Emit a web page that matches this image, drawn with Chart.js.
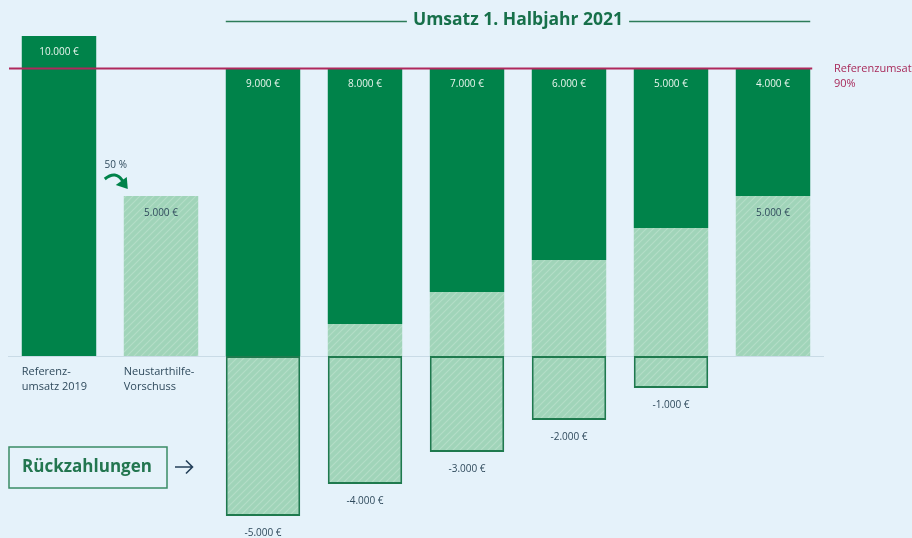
<!DOCTYPE html>
<html>
<head>
<meta charset="utf-8">
<script src="https://cdn.jsdelivr.net/npm/chart.js@4"></script>
<style>
  html, body { margin: 0; padding: 0; background: #e5f2fa; }
  #wrap { width: 912px; height: 538px; position: relative; }
</style>
</head>
<body>
<div id="wrap"><canvas id="chart" width="912" height="538"></canvas></div>
<script>
const CATEGORIES = [["Referenz-", "umsatz 2019"], ["Neustarthilfe-", "Vorschuss"], "", "", "", "", "", ""];
// Neustarthilfe, die behalten wird (hell, schraffiert)
const KEPT = [null, 5000, 0, 1000, 2000, 3000, 4000, 5000];
// Umsatz (dunkelgrün)
const REVENUE = [10000, null, 9000, 8000, 7000, 6000, 5000, 4000];
// Rückzahlung (negativ)
const REPAY = [null, null, -5000, -4000, -3000, -2000, -1000, null];
const KEPT_LABEL_SHOWN = [false, true, false, false, false, false, false, true];
const REFERENCE = 9000;
const TITLE = "Umsatz 1. Halbjahr 2021";

const DARK = "#00834a";
const LIGHT = "#a0d4b9";
const TEXT = "#2f4a5c";

function euro(v) {
  const s = Math.abs(v).toString().replace(/\B(?=(\d{3})+(?!\d))/g, ".");
  return (v < 0 ? "-" : "") + s + " €";
}

function hatch() {
  const c = document.createElement("canvas");
  c.width = 7; c.height = 7;
  const g = c.getContext("2d");
  g.fillStyle = LIGHT;
  g.fillRect(0, 0, 7, 7);
  g.strokeStyle = "#b3ddc7";
  g.lineWidth = 1.2;
  g.beginPath();
  g.moveTo(-1, 8); g.lineTo(8, -1);
  g.moveTo(-1, 1); g.lineTo(1, -1);
  g.moveTo(6, 8); g.lineTo(8, 6);
  g.stroke();
  return g.createPattern(c, "repeat");
}
const pattern = hatch();

const decor = {
  id: "decor",
  beforeDatasetsDraw(chart) {
    const { ctx, chartArea } = chart;
    const y0 = chart.scales.y.getPixelForValue(0);
    ctx.save();
    ctx.strokeStyle = "rgba(120,150,170,0.25)";
    ctx.lineWidth = 1;
    ctx.beginPath();
    ctx.moveTo(chartArea.left, y0 + 0.5);
    ctx.lineTo(chartArea.right, y0 + 0.5);
    ctx.stroke();
    ctx.restore();
  },
  afterDatasetsDraw(chart) {
    const { ctx } = chart;
    const y = chart.scales.y;
    const keptMeta = chart.getDatasetMeta(0).data;
    const revMeta = chart.getDatasetMeta(1).data;
    const repMeta = chart.getDatasetMeta(2).data;
    ctx.save();
    ctx.textAlign = "center";
    ctx.textBaseline = "middle";
    ctx.font = "10px 'Open Sans', sans-serif";

    // value labels
    REVENUE.forEach((v, i) => {
      if (v == null) return;
      ctx.fillStyle = "#eaf6ef";
      ctx.fillText(euro(v), revMeta[i].x, revMeta[i].y + 16);
    });
    KEPT.forEach((v, i) => {
      if (!KEPT_LABEL_SHOWN[i]) return;
      ctx.fillStyle = TEXT;
      ctx.fillText(euro(v), keptMeta[i].x, keptMeta[i].y + 17);
    });
    REPAY.forEach((v, i) => {
      if (v == null) return;
      ctx.fillStyle = TEXT;
      ctx.fillText(euro(v), repMeta[i].x, repMeta[i].y + 17);
    });

    // reference line
    const yr = Math.round(y.getPixelForValue(REFERENCE)) + 0.5;
    const right = revMeta[7].x + revMeta[7].width / 2;
    ctx.strokeStyle = "#b0285c";
    ctx.lineWidth = 2;
    ctx.beginPath();
    ctx.moveTo(9, yr);
    ctx.lineTo(right + 2, yr);
    ctx.stroke();
    ctx.fillStyle = "#a82a5a";
    ctx.textAlign = "left";
    ctx.font = "11px 'Open Sans', sans-serif";
    ctx.fillText("Referenzumsatz", 834, yr);
    ctx.fillText("90%", 834, yr + 15);

    // category labels
    ctx.fillStyle = TEXT;
    ctx.font = "11px 'Open Sans', sans-serif";
    CATEGORIES.forEach((lab, i) => {
      if (!Array.isArray(lab)) return;
      const el = chart.getDatasetMeta(i === 0 ? 1 : 0).data[i];
      const x = el.x - el.width / 2;
      lab.forEach((line, k) => ctx.fillText(line, x, y.getPixelForValue(0) + 16 + k * 15));
    });

    // title with rules
    const l = revMeta[2].x - revMeta[2].width / 2;
    const cx = (l + right) / 2;
    ctx.font = "bold 17.5px 'Open Sans', sans-serif";
    ctx.fillStyle = "#17704a";
    ctx.textAlign = "center";
    ctx.fillText(TITLE, cx, 20);
    const tw = ctx.measureText(TITLE).width;
    ctx.strokeStyle = "#2d7c58";
    ctx.lineWidth = 1.5;
    ctx.beginPath();
    ctx.moveTo(l, 21.5); ctx.lineTo(cx - tw / 2 - 6, 21.5);
    ctx.moveTo(cx + tw / 2 + 6, 21.5); ctx.lineTo(right, 21.5);
    ctx.stroke();

    // 50 % arrow
    const b2 = keptMeta[1];
    const ax = b2.x - b2.width / 2;
    ctx.font = "10px 'Open Sans', sans-serif";
    ctx.fillStyle = TEXT;
    ctx.fillText("50 %", ax - 8, 165);
    ctx.strokeStyle = DARK;
    ctx.fillStyle = DARK;
    ctx.lineWidth = 3;
    ctx.beginPath();
    ctx.moveTo(ax - 19, 179);
    ctx.quadraticCurveTo(ax - 8, 170, ax - 1, 181);
    ctx.stroke();
    ctx.beginPath();
    ctx.moveTo(ax + 4, 189);
    ctx.lineTo(ax - 8, 185);
    ctx.lineTo(ax + 3, 177);
    ctx.closePath();
    ctx.fill();

    // Rückzahlungen box
    ctx.strokeStyle = "#3a8c66";
    ctx.lineWidth = 1.5;
    ctx.strokeRect(9, 447, 158, 41);
    ctx.font = "bold 17px 'Open Sans', sans-serif";
    ctx.fillStyle = "#237650";
    ctx.fillText("Rückzahlungen", 87, 467.5);
    ctx.strokeStyle = "#24405a";
    ctx.lineWidth = 1.6;
    ctx.beginPath();
    ctx.moveTo(175, 467); ctx.lineTo(192, 467);
    ctx.moveTo(186, 460.5); ctx.lineTo(192.5, 467); ctx.lineTo(186, 473.5);
    ctx.stroke();
    ctx.restore();
  }
};

new Chart(document.getElementById("chart"), {
  type: "bar",
  data: {
    labels: CATEGORIES,
    datasets: [
      { label: "Neustarthilfe", data: KEPT, backgroundColor: pattern, borderWidth: 0 },
      { label: "Umsatz", data: REVENUE, backgroundColor: DARK, borderWidth: 0 },
      { label: "Rückzahlung", data: REPAY, backgroundColor: pattern, borderColor: "#1f7a4e", borderWidth: 2, borderSkipped: false },
    ],
  },
  options: {
    responsive: false,
    animation: false,
    barPercentage: 0.73,
    categoryPercentage: 1,
    layout: { padding: { left: 8, right: 88, top: 36, bottom: 22 } },
    scales: {
      x: { stacked: true, display: false },
      y: { stacked: true, display: false, min: -5000, max: 10000 },
    },
    plugins: { legend: { display: false }, tooltip: { enabled: false }, title: { display: false } },
  },
  plugins: [decor],
});
</script>
</body>
</html>
